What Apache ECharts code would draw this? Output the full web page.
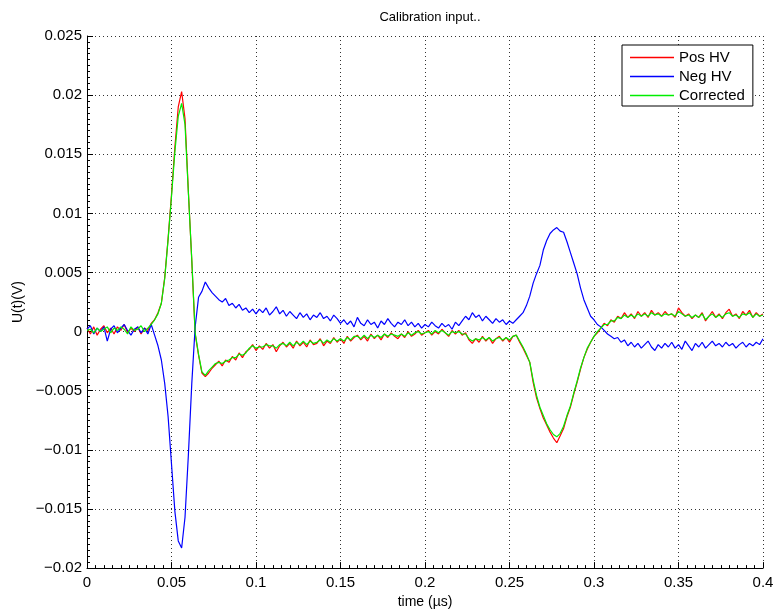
<!DOCTYPE html>
<html>
<head>
<meta charset="utf-8">
<title>Calibration input..</title>
<script src="https://cdn.jsdelivr.net/npm/echarts@6/dist/echarts.min.js"></script>
<style>
  html, body { margin: 0; padding: 0; background: #ffffff; }
  #chart { width: 777px; height: 614px; }
</style>
</head>
<body>
<div id="chart"></div>
<script>
// Sample times in microseconds
const time = [
  0.000,0.002,0.004,0.006,0.008,0.010,0.012,0.014,0.016,0.018,
  0.020,0.022,0.024,0.026,0.028,0.030,0.032,0.034,0.036,0.038,
  0.040,0.042,0.044,0.046,0.048,0.050,0.052,0.054,0.056,0.058,
  0.060,0.062,0.064,0.066,0.068,0.070,0.072,0.074,0.076,0.078,
  0.080,0.082,0.084,0.086,0.088,0.090,0.092,0.094,0.096,0.098,
  0.100,0.102,0.104,0.106,0.108,0.110,0.112,0.114,0.116,0.118,
  0.120,0.122,0.124,0.126,0.128,0.130,0.132,0.134,0.136,0.138,
  0.140,0.142,0.144,0.146,0.148,0.150,0.152,0.154,0.156,0.158,
  0.160,0.162,0.164,0.166,0.168,0.170,0.172,0.174,0.176,0.178,
  0.180,0.182,0.184,0.186,0.188,0.190,0.192,0.194,0.196,0.198,
  0.200,0.202,0.204,0.206,0.208,0.210,0.212,0.214,0.216,0.218,
  0.220,0.222,0.224,0.226,0.228,0.230,0.232,0.234,0.236,0.238,
  0.240,0.242,0.244,0.246,0.248,0.250,0.252,0.254,0.256,0.258,
  0.260,0.262,0.264,0.266,0.268,0.270,0.272,0.274,0.276,0.278,
  0.280,0.282,0.284,0.286,0.288,0.290,0.292,0.294,0.296,0.298,
  0.300,0.302,0.304,0.306,0.308,0.310,0.312,0.314,0.316,0.318,
  0.320,0.322,0.324,0.326,0.328,0.330,0.332,0.334,0.336,0.338,
  0.340,0.342,0.344,0.346,0.348,0.350,0.352,0.354,0.356,0.358,
  0.360,0.362,0.364,0.366,0.368,0.370,0.372,0.374,0.376,0.378,
  0.380,0.382,0.384,0.386,0.388,0.390,0.392,0.394,0.396,0.398,
  0.400
];

// Positive HV channel, volts
const posHV = [
  0.0003,-0.0002,0.0004,-0.0003,0.0002,0.0005,-0.0001,0.0003,-0.0002,0.0004,
  0.0001,0.0006,-0.0001,0.0003,0.0000,0.0004,-0.0002,0.0003,0.0001,0.0007,
  0.0010,0.0016,0.0024,0.0046,0.0079,0.0116,0.0156,0.0190,0.0203,0.0180,
  0.0118,0.0060,-0.0002,-0.0020,-0.0035,-0.0038,-0.0035,-0.0031,-0.0028,-0.0025,
  -0.0029,-0.0024,-0.0026,-0.0021,-0.0024,-0.0018,-0.0022,-0.0017,-0.0015,-0.0011,
  -0.0016,-0.0012,-0.0015,-0.0010,-0.0014,-0.0011,-0.0017,-0.0012,-0.0009,-0.0013,
  -0.0010,-0.0014,-0.0008,-0.0012,-0.0009,-0.0013,-0.0007,-0.0011,-0.0010,-0.0006,
  -0.0012,-0.0008,-0.0010,-0.0005,-0.0009,-0.0006,-0.0010,-0.0004,-0.0008,-0.0005,
  -0.0003,-0.0007,-0.0004,-0.0008,-0.0002,-0.0006,-0.0003,-0.0007,-0.0002,-0.0005,
  -0.0001,-0.0004,-0.0006,-0.0002,-0.0005,0.0000,-0.0004,-0.0002,0.0001,-0.0003,
  -0.0001,0.0001,-0.0003,0.0000,-0.0002,0.0002,-0.0001,-0.0004,0.0001,-0.0002,
  0.0001,-0.0003,-0.0001,-0.0007,-0.0010,-0.0006,-0.0009,-0.0004,-0.0008,-0.0005,
  -0.0010,-0.0006,-0.0004,-0.0008,-0.0005,-0.0009,-0.0004,-0.0003,-0.0009,-0.0014,
  -0.0020,-0.0026,-0.0043,-0.0056,-0.0065,-0.0073,-0.0079,-0.0085,-0.0090,-0.0094,
  -0.0088,-0.0082,-0.0072,-0.0064,-0.0053,-0.0043,-0.0032,-0.0022,-0.0015,-0.0009,
  -0.0004,-0.0001,0.0003,0.0007,0.0005,0.0010,0.0008,0.0013,0.0011,0.0016,
  0.0012,0.0015,0.0011,0.0017,0.0013,0.0016,0.0012,0.0018,0.0014,0.0016,
  0.0013,0.0017,0.0014,0.0015,0.0012,0.0020,0.0016,0.0013,0.0015,0.0011,
  0.0014,0.0012,0.0016,0.0009,0.0013,0.0017,0.0012,0.0015,0.0011,0.0016,
  0.0019,0.0013,0.0015,0.0011,0.0017,0.0014,0.0018,0.0012,0.0016,0.0013,
  0.0015
];

// Negative HV channel, volts
const negHV = [
  0.0002,0.0005,-0.0002,0.0003,0.0000,0.0004,-0.0008,0.0002,0.0005,-0.0001,
  0.0003,0.0006,0.0001,-0.0003,0.0002,0.0004,-0.0001,0.0003,-0.0002,0.0006,
  -0.0003,-0.0012,-0.0024,-0.0044,-0.0072,-0.0112,-0.0152,-0.0177,-0.0183,-0.0157,
  -0.0104,-0.0044,0.0004,0.0029,0.0034,0.0042,0.0037,0.0033,0.0030,0.0027,
  0.0025,0.0028,0.0022,0.0024,0.0020,0.0023,0.0018,0.0020,0.0016,0.0019,
  0.0015,0.0019,0.0016,0.0020,0.0014,0.0017,0.0021,0.0015,0.0018,0.0013,
  0.0017,0.0014,0.0011,0.0016,0.0012,0.0015,0.0010,0.0014,0.0012,0.0016,
  0.0011,0.0013,0.0009,0.0014,0.0011,0.0007,0.0010,0.0006,0.0009,0.0004,
  0.0012,0.0007,0.0005,0.0010,0.0006,0.0008,0.0003,0.0009,0.0006,0.0011,
  0.0007,0.0004,0.0008,0.0006,0.0010,0.0005,0.0008,0.0004,0.0007,0.0003,
  0.0006,0.0004,0.0008,0.0005,0.0003,0.0007,0.0004,0.0006,0.0002,0.0008,
  0.0005,0.0009,0.0013,0.0010,0.0016,0.0012,0.0014,0.0009,0.0013,0.0010,
  0.0007,0.0011,0.0008,0.0010,0.0006,0.0009,0.0007,0.0010,0.0013,0.0016,
  0.0022,0.0030,0.0041,0.0049,0.0056,0.0069,0.0077,0.0083,0.0086,0.0088,
  0.0085,0.0084,0.0076,0.0067,0.0058,0.0049,0.0037,0.0027,0.0020,0.0013,
  0.0010,0.0006,0.0004,0.0001,-0.0002,-0.0004,-0.0006,-0.0005,-0.0009,-0.0007,
  -0.0012,-0.0009,-0.0013,-0.0010,-0.0014,-0.0011,-0.0008,-0.0013,-0.0016,-0.0011,
  -0.0014,-0.0010,-0.0013,-0.0009,-0.0014,-0.0011,-0.0015,-0.0008,-0.0012,-0.0016,
  -0.0010,-0.0013,-0.0009,-0.0014,-0.0011,-0.0008,-0.0012,-0.0010,-0.0013,-0.0009,
  -0.0012,-0.0010,-0.0014,-0.0011,-0.0009,-0.0013,-0.0010,-0.0012,-0.0009,-0.0011,
  -0.0006
];

// Corrected signal, volts
const corrected = [
  0.0001,0.0002,-0.0001,0.0003,0.0000,0.0002,0.0004,-0.0001,0.0003,0.0001,
  0.0004,0.0002,-0.0002,0.0004,0.0001,0.0002,0.0005,0.0000,0.0003,0.0006,
  0.0010,0.0015,0.0024,0.0045,0.0078,0.0114,0.0152,0.0182,0.0193,0.0175,
  0.0117,0.0061,-0.0001,-0.0019,-0.0034,-0.0037,-0.0033,-0.0030,-0.0027,-0.0026,
  -0.0027,-0.0025,-0.0024,-0.0022,-0.0022,-0.0019,-0.0020,-0.0018,-0.0014,-0.0012,
  -0.0014,-0.0013,-0.0013,-0.0011,-0.0012,-0.0012,-0.0014,-0.0011,-0.0010,-0.0012,
  -0.0009,-0.0012,-0.0009,-0.0011,-0.0008,-0.0011,-0.0008,-0.0010,-0.0009,-0.0007,
  -0.0010,-0.0007,-0.0009,-0.0006,-0.0008,-0.0006,-0.0008,-0.0005,-0.0007,-0.0004,
  -0.0004,-0.0006,-0.0003,-0.0006,-0.0003,-0.0005,-0.0003,-0.0005,-0.0002,-0.0004,
  -0.0002,-0.0003,-0.0004,-0.0002,-0.0004,-0.0001,-0.0003,-0.0001,0.0000,-0.0002,
  -0.0001,0.0000,-0.0002,0.0001,-0.0001,0.0001,-0.0001,-0.0003,0.0000,-0.0001,
  0.0000,-0.0002,-0.0002,-0.0006,-0.0008,-0.0006,-0.0007,-0.0005,-0.0007,-0.0005,
  -0.0008,-0.0006,-0.0005,-0.0007,-0.0005,-0.0007,-0.0004,-0.0003,-0.0008,-0.0013,
  -0.0019,-0.0026,-0.0041,-0.0054,-0.0064,-0.0071,-0.0078,-0.0083,-0.0087,-0.0089,
  -0.0086,-0.0080,-0.0071,-0.0063,-0.0052,-0.0042,-0.0031,-0.0022,-0.0014,-0.0009,
  -0.0004,0.0000,0.0003,0.0006,0.0006,0.0009,0.0009,0.0012,0.0011,0.0014,
  0.0012,0.0014,0.0012,0.0015,0.0013,0.0015,0.0013,0.0016,0.0014,0.0015,
  0.0013,0.0015,0.0014,0.0015,0.0013,0.0017,0.0015,0.0013,0.0014,0.0012,
  0.0014,0.0012,0.0015,0.0010,0.0013,0.0015,0.0012,0.0014,0.0012,0.0015,
  0.0016,0.0013,0.0014,0.0012,0.0015,0.0014,0.0016,0.0012,0.0015,0.0013,
  0.0014
];

const seriesNames = ['Pos HV', 'Neg HV', 'Corrected'];
const seriesColors = ['#ff0000', '#0000ff', '#00ee00'];
const seriesValues = [posHV, negHV, corrected];

const FONT = '"Liberation Sans", Arial, Helvetica, sans-serif';

// Tick label text with a typographic minus sign
function fmt(v) {
  const s = String(Number(v.toFixed(4)));
  return s.charAt(0) === '-' ? '\u2212' + s.slice(1) : s;
}

const gridDots = { type: [1, 3], color: '#333', width: 1 };

const chart = echarts.init(document.getElementById('chart'), null, { renderer: 'canvas' });

chart.setOption({
  animation: false,
  backgroundColor: '#ffffff',
  title: {
    text: 'Calibration input..',
    left: 425,
    top: 6,
    textAlign: 'center',
    textStyle: { fontFamily: FONT, fontSize: 13, fontWeight: 'normal', color: '#000' }
  },
  grid: { left: 87, top: 36, width: 676, height: 534, containLabel: false },
  legend: {
    data: seriesNames,
    orient: 'vertical',
    left: 622,
    top: 45,
    backgroundColor: '#ffffff',
    borderColor: '#000000',
    borderWidth: 1,
    borderRadius: 0,
    padding: [5, 8, 3, 8],
    itemGap: 4,
    itemWidth: 44,
    itemHeight: 1.5,
    icon: 'rect',
    textStyle: { fontFamily: FONT, fontSize: 15, lineHeight: 15, color: '#000' }
  },
  xAxis: {
    type: 'value',
    min: 0,
    max: 0.4,
    interval: 0.05,
    name: 'time (\u00b5s)',
    nameLocation: 'middle',
    nameGap: 24,
    nameTextStyle: { fontFamily: FONT, fontSize: 14, color: '#000' },
    axisLine: { show: true, onZero: false, lineStyle: { color: '#000', width: 1 } },
    axisTick: { show: true, inside: true, length: 6, lineStyle: { color: '#000' } },
    minorTick: { show: true, splitNumber: 10, length: 3, lineStyle: { color: '#000' } },
    axisLabel: { fontFamily: FONT, fontSize: 15, color: '#000', margin: 7, formatter: fmt },
    splitLine: { show: true, lineStyle: gridDots }
  },
  yAxis: {
    type: 'value',
    min: -0.02,
    max: 0.025,
    interval: 0.005,
    name: 'U(t)(V)',
    nameLocation: 'middle',
    nameRotate: 90,
    nameGap: 60,
    nameTextStyle: { fontFamily: FONT, fontSize: 14, color: '#000' },
    axisLine: { show: true, onZero: false, lineStyle: { color: '#000', width: 1 } },
    axisTick: { show: true, inside: true, length: 6, lineStyle: { color: '#000' } },
    minorTick: { show: true, splitNumber: 10, length: 3, lineStyle: { color: '#000' } },
    axisLabel: { fontFamily: FONT, fontSize: 15, color: '#000', margin: 5, formatter: fmt },
    splitLine: { show: true, lineStyle: gridDots }
  },
  series: seriesNames.map((name, k) => ({
    name: name,
    type: 'line',
    symbol: 'none',
    showSymbol: false,
    color: seriesColors[k],
    lineStyle: { color: seriesColors[k], width: 1.2 },
    data: time.map((t, i) => [t, seriesValues[k][i]])
  }))
});
</script>
</body>
</html>
